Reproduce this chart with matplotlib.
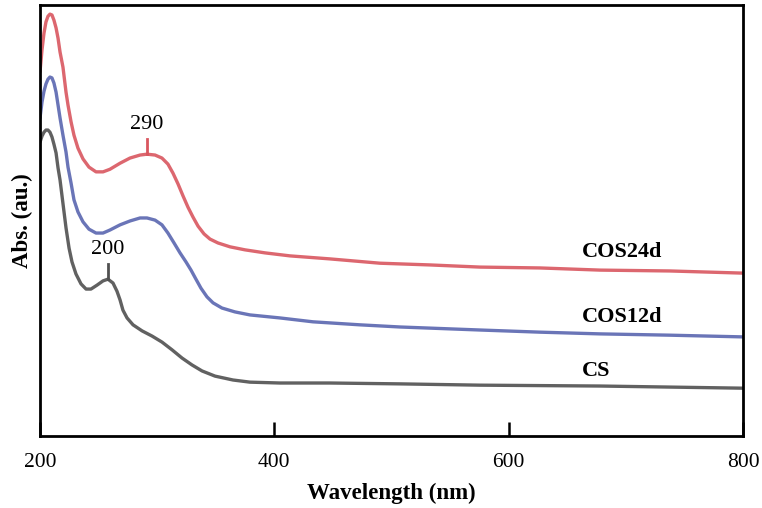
import numpy as np
import matplotlib
matplotlib.use('Agg')
import matplotlib.pyplot as plt

plt.rcParams['font.family'] = ['Liberation Serif', 'DejaVu Serif']

# UV-Vis spectra, absorbance in arbitrary units
wl_cos24 = [200.0, 201.7, 203.4, 205.1, 206.8, 208.5, 210.2, 211.9, 213.7, 215.4, 217.1,
            219.6, 222.2, 223.9, 226.5, 229.0, 232.4, 236.7, 241.8, 247.8, 253.8, 259.7,
            268.3, 276.8, 285.4, 291.3, 298.2, 304.1, 309.2, 313.5, 317.8, 322.1, 326.3,
            330.6, 334.9, 340.0, 345.1, 351.9, 362.2, 375.0, 392.0, 413.4, 447.5, 490.2,
            532.9, 575.5, 626.8, 678.0, 737.7, 800.0]
abs_cos24 = [0.845, 0.896, 0.935, 0.961, 0.974, 0.979, 0.977, 0.965, 0.947, 0.923, 0.891,
             0.856, 0.798, 0.768, 0.729, 0.698, 0.668, 0.643, 0.624, 0.613, 0.613, 0.619,
             0.633, 0.645, 0.652, 0.654, 0.652, 0.645, 0.631, 0.610, 0.585, 0.557, 0.531,
             0.508, 0.487, 0.469, 0.457, 0.448, 0.439, 0.432, 0.425, 0.418, 0.411, 0.401,
             0.397, 0.392, 0.390, 0.385, 0.383, 0.378]

wl_cos12 = [200.0, 201.7, 203.4, 205.1, 206.8, 208.5, 210.2, 211.9, 213.7, 215.4, 217.1,
            219.6, 222.2, 223.9, 226.5, 229.0, 232.4, 236.7, 241.8, 247.8, 253.8, 259.7,
            268.3, 276.8, 285.4, 291.3, 298.2, 304.1, 309.2, 314.4, 319.5, 324.6, 328.9,
            333.1, 337.4, 342.5, 347.7, 355.3, 366.4, 379.2, 404.8, 433.0, 473.1, 507.3,
            575.5, 626.8, 678.0, 737.7, 800.0]
abs_cos12 = [0.738, 0.775, 0.800, 0.817, 0.828, 0.833, 0.831, 0.819, 0.798, 0.768, 0.738,
             0.698, 0.659, 0.624, 0.587, 0.548, 0.520, 0.497, 0.480, 0.471, 0.471, 0.478,
             0.490, 0.499, 0.506, 0.506, 0.501, 0.490, 0.471, 0.448, 0.425, 0.404, 0.385,
             0.364, 0.343, 0.323, 0.309, 0.297, 0.288, 0.281, 0.274, 0.265, 0.258, 0.253,
             0.246, 0.241, 0.237, 0.234, 0.230]

wl_cs = [200.0, 201.7, 203.4, 205.1, 206.8, 208.5, 210.2, 211.9, 213.7, 215.4, 217.1,
         218.8, 220.5, 222.2, 224.8, 227.3, 230.7, 235.0, 239.3, 243.5, 248.6, 253.8,
         258.0, 262.3, 265.7, 268.3, 270.8, 274.3, 279.4, 287.1, 295.6, 304.1, 312.7,
         321.2, 329.7, 338.3, 349.4, 364.7, 379.2, 404.8, 447.5, 507.3, 575.5, 678.0, 800.0]
abs_cs = [0.682, 0.696, 0.705, 0.710, 0.710, 0.705, 0.694, 0.677, 0.657, 0.622, 0.594,
          0.557, 0.520, 0.483, 0.436, 0.404, 0.376, 0.353, 0.341, 0.341, 0.350, 0.360,
          0.364, 0.355, 0.336, 0.316, 0.292, 0.274, 0.258, 0.244, 0.232, 0.218, 0.200,
          0.181, 0.165, 0.151, 0.139, 0.130, 0.125, 0.123, 0.123, 0.121, 0.118, 0.116, 0.111]

names = ['COS24d', 'COS12d', 'CS']
colors = ['#d9565f', '#5a66b0', '#505050']
name_y = [0.427, 0.276, 0.151]

# peak marks: (wavelength, label, series index)
peaks = [(291.3, '290', 0), (258.0, '200', 2)]

fig = plt.figure(figsize=(7.62, 5.08), dpi=100)
ax = fig.add_axes([0.0525, 0.1417, 0.9225, 0.8483])

series = [(wl_cos24, abs_cos24), (wl_cos12, abs_cos12), (wl_cs, abs_cs)]
for (x, y), c in zip(series, colors):
    ax.plot(x, y, color=c, lw=2.4, alpha=0.9, solid_capstyle='round', solid_joinstyle='round')

for (x, y), name, ny in zip(series, names, name_y):
    ax.text(662.6, ny, name, fontsize=16, fontweight='bold', ha='left', va='center')

for wl, lab, i in peaks:
    x, y = series[i]
    yc = np.interp(wl, x, y)
    ax.plot([wl, wl], [yc, yc + 0.035], color=colors[i], lw=2)
    ax.text(wl, yc + 0.069, lab, fontsize=16, ha='center', va='center',
            bbox=dict(facecolor='white', edgecolor='none', pad=0.5))

ax.set_xlim(200, 800)
ax.set_ylim(0, 1)
ax.set_xticks([200, 400, 600, 800])
ax.tick_params(axis='x', direction='in', length=10, width=1.8, pad=12, labelsize=15.5)
ax.set_yticks([])
for s in ax.spines.values():
    s.set_linewidth(2)

ax.set_xlabel('Wavelength (nm)', fontsize=16.5, fontweight='bold', labelpad=8)
ax.set_ylabel('Abs. (au.)', fontsize=16.5, fontweight='bold', labelpad=5)

fig.savefig('out.png', dpi=100)
